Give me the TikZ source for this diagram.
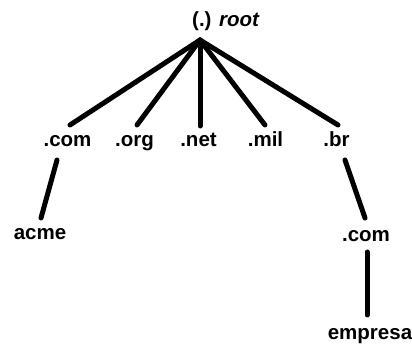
\documentclass[tikz,border=0pt]{standalone}
\usepackage{fontspec}
\setmainfont{Liberation Sans}
\begin{document}
\begin{tikzpicture}[x=1pt,y=-1pt,
  lbl/.style={anchor=base,inner sep=0pt,font=\fontsize{20.5}{24}\selectfont\bfseries},
  edge/.style={line width=5pt,line cap=round}]
\useasboundingbox (0,0) rectangle (412,344);
% labels
\node[lbl,anchor=base west] (root) at (192,27) {(.) \textit{root}};
\node[lbl] (com) at (67.5,147) {.com};
\node[lbl] (org) at (134.5,147) {.org};
\node[lbl] (net) at (198.5,147) {.net};
\node[lbl] (mil) at (265.5,147) {.mil};
\node[lbl] (br) at (336.5,147) {.br};
\node[lbl] (acme) at (40,240) {acme};
\node[lbl] (com2) at (366,242) {.com};
\node[lbl] (empresa) at (370,339) {empresa};
% connector end points
\coordinate (apex) at (200,40);
\coordinate (comT) at (70,125);
\coordinate (orgT) at (137,125);
\coordinate (netT) at (200,126);
\coordinate (milT) at (265,125);
\coordinate (brT) at (338,125);
\coordinate (comB) at (57,160);
\coordinate (acmeT) at (41,218);
\coordinate (brB) at (345,160);
\coordinate (comtwoT) at (365,218);
\coordinate (comtwoB) at (367,252);
\coordinate (empresaT) at (367,315);
% connectors
\draw[edge] (apex) -- (comT);
\draw[edge] (apex) -- (orgT);
\draw[edge] (apex) -- (netT);
\draw[edge] (apex) -- (milT);
\draw[edge] (apex) -- (brT);
\draw[edge] (comB) -- (acmeT);
\draw[edge] (brB) -- (comtwoT);
\draw[edge] (comtwoB) -- (empresaT);
\end{tikzpicture}
\end{document}
